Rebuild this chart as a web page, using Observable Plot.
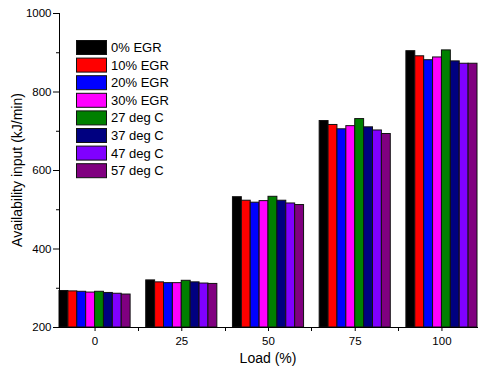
<!DOCTYPE html>
<html><head><meta charset="utf-8">
<script src="https://cdn.jsdelivr.net/npm/d3@7"></script>
<script src="https://cdn.jsdelivr.net/npm/@observablehq/plot@0.6"></script>
<style>body{margin:0;background:#fff;}</style>
</head><body><div id="chart"></div>
<script>
const loads = [0, 25, 50, 75, 100];
const seriesNames = ["0% EGR", "10% EGR", "20% EGR", "30% EGR", "27 deg C", "37 deg C", "47 deg C", "57 deg C"];
const seriesColors = ["#000000", "#ff0000", "#0000ff", "#ff00ff", "#008000", "#000080", "#8000ff", "#800080"];
const egr0 = [293, 320, 532, 726, 904];
const egr10 = [292, 315, 523, 716, 891];
const egr20 = [291, 313, 518, 705, 881];
const egr30 = [289, 313, 522, 713, 888];
const deg27 = [291, 319, 533, 731, 906];
const deg37 = [288, 315, 523, 710, 878];
const deg47 = [286, 312, 516, 702, 872];
const deg57 = [284, 311, 512, 693, 872];
const yTicks = [200, 400, 600, 800, 1000];
const yMinorTicks = [300, 500, 700, 900];
const xLabel = "Load (%)";
const yLabel = "Availability input (kJ/min)";

const seriesValues = [egr0, egr10, egr20, egr30, deg27, deg37, deg47, deg57];
const data = [];
seriesNames.forEach((s, i) => loads.forEach((l, j) => data.push({load: l, series: s, value: seriesValues[i][j]})));

const font = "'Liberation Sans', Arial, sans-serif";
const plot = Plot.plot({
  width: 478, height: 371,
  marginLeft: 59, marginRight: 1, marginTop: 13, marginBottom: 44,
  style: {fontFamily: font, fontSize: "11.5px", background: "white", color: "black", overflow: "visible"},
  fx: {domain: loads, paddingInner: 0.18, paddingOuter: 0, round: false, axis: null, label: null},
  x: {domain: seriesNames, padding: 0, round: false, axis: null},
  y: {domain: [200, 1000], axis: null},
  color: {domain: seriesNames, range: seriesColors},
  marks: [
    Plot.barY(data, {fx: "load", x: "series", y1: 200, y2: "value", fill: "series", stroke: "#111", strokeWidth: 1, inset: 0}),
    Plot.axisFx({anchor: "bottom", tickSize: 4, tickPadding: 5, fontSize: 11.5, label: null, stroke: "black"}),
    Plot.axisY({ticks: yTicks, tickSize: 6, tickPadding: 2, fontSize: 11.5, label: null, tickFormat: d3.format("d")}),
    Plot.axisY({ticks: yMinorTicks, tickSize: 3, tickFormat: () => "", label: null})
  ]
});
document.getElementById("chart").appendChild(plot);

const svg = d3.select(plot);
const fx = plot.scale("fx"), y = plot.scale("y"), color = plot.scale("color");
const yb = y.apply(200), yt = y.apply(1000);
const xl = fx.range[0], xr = fx.range[1] + 1;
const g = svg.append("g").attr("stroke", "black").attr("stroke-width", 1).attr("fill", "none");
g.append("line").attr("x1", xl + 0.5).attr("x2", xl + 0.5).attr("y1", yt).attr("y2", yb + 0.5);
g.append("line").attr("x1", xl).attr("x2", xr).attr("y1", yb + 0.5).attr("y2", yb + 0.5);
for (let i = 0; i < loads.length - 1; i++) {
  const m = Math.round((fx.apply(loads[i]) + fx.bandwidth + fx.apply(loads[i + 1])) / 2) + 0.5;
  g.append("line").attr("x1", m).attr("x2", m).attr("y1", yb).attr("y2", yb + 4);
}
svg.append("text").attr("x", (xl + fx.range[1]) / 2).attr("y", 363).attr("text-anchor", "middle")
  .attr("font-family", font).attr("font-size", 14).attr("fill", "black").text(xLabel);
svg.append("text").attr("transform", `translate(22,${(yt + yb) / 2}) rotate(-90)`).attr("text-anchor", "middle")
  .attr("font-family", font).attr("font-size", 14).attr("fill", "black").text(yLabel);
const lg = svg.append("g").attr("font-family", font).attr("font-size", 13).attr("text-anchor", "start");
color.domain.forEach((s, i) => {
  const top = yt + 27 + i * 17.6;
  lg.append("rect").attr("x", xl + 17.5).attr("y", top + 0.5).attr("width", 30).attr("height", 14)
    .attr("fill", color.apply(s)).attr("stroke", "#111");
  lg.append("text").attr("x", xl + 52).attr("y", top + 12).attr("fill", "black").text(s);
});
</script>
</body></html>
